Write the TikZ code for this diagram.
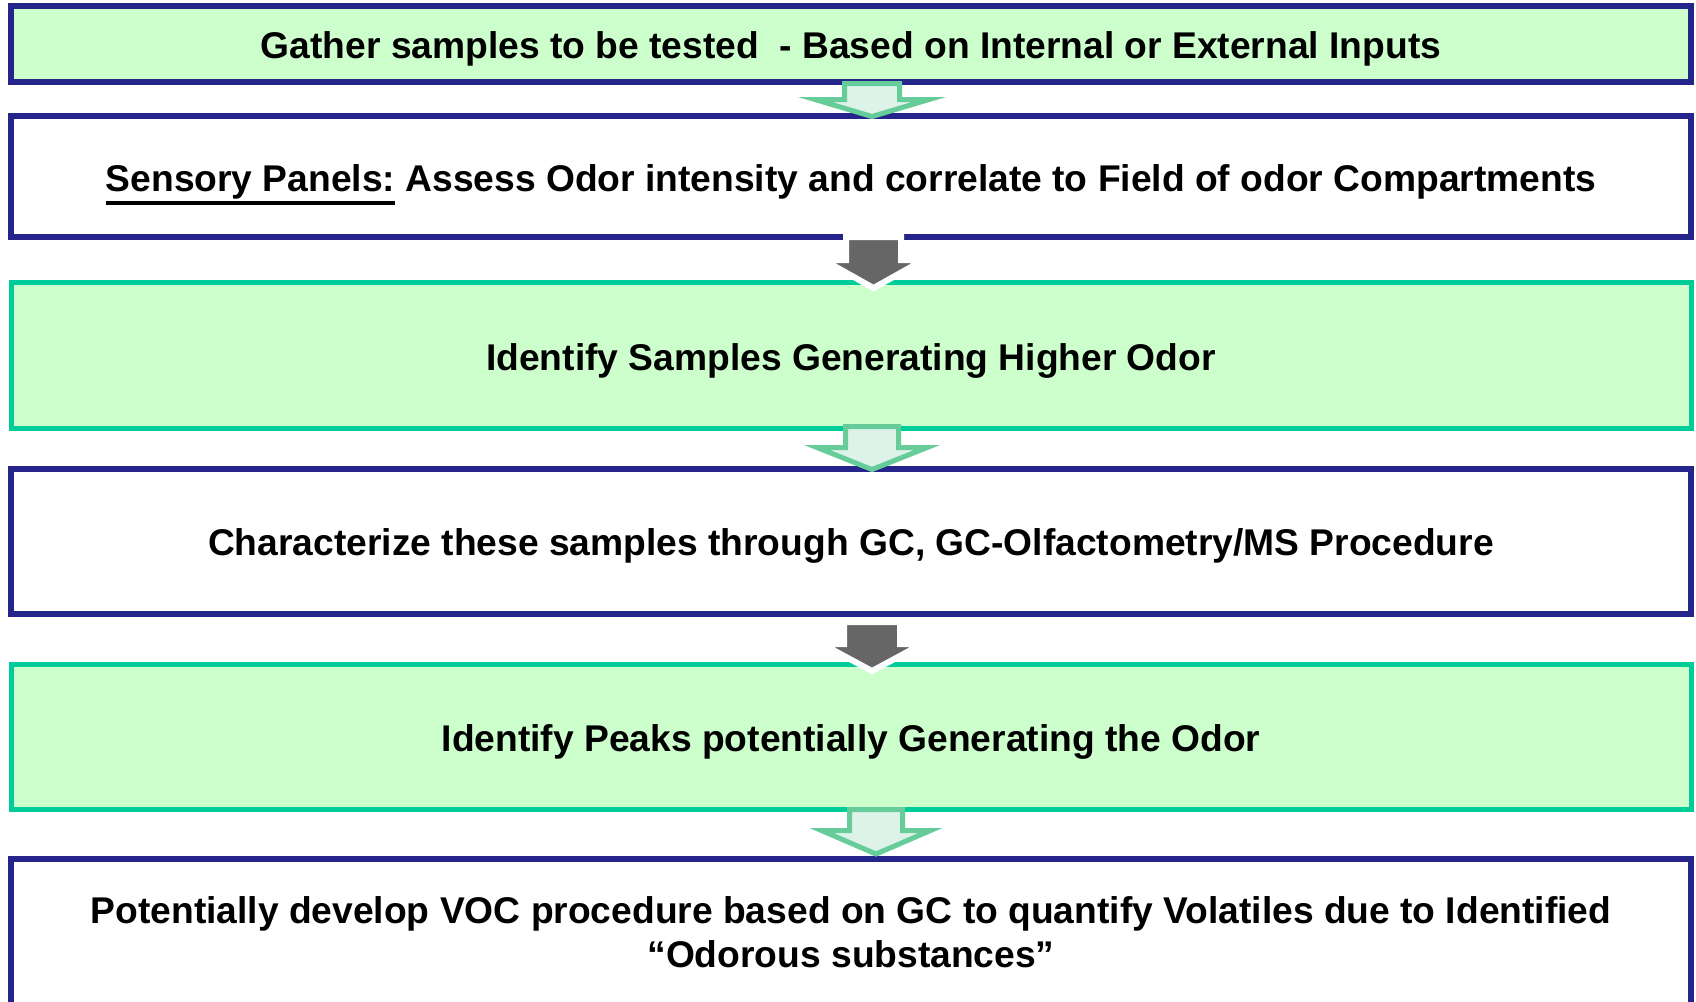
\documentclass[tikz,border=0pt]{standalone}
\usepackage{fontspec}
\setmainfont{Liberation Sans}
\definecolor{boxblue}{RGB}{36,36,139}
\definecolor{boxgreen}{RGB}{0,204,153}
\definecolor{boxfill}{RGB}{204,255,204}
\definecolor{arrline}{RGB}{102,204,153}
\definecolor{arrfill}{RGB}{221,242,232}
\definecolor{arrgray}{RGB}{102,102,102}
\newcommand\myul[1]{\setbox0\hbox{#1}\rlap{\rule[-13.5pt]{\wd0}{3.4pt}}\box0\relax}
\newcommand\myblockarrow[7]{\draw[#7] (#1-#5,#2) -- (#1+#5,#2) -- (#1+#5,#3) -- (#1+#6,#3) -- (#1,#4) -- (#1-#6,#3) -- (#1-#5,#3) -- cycle;}
\tikzset{
  box/.style={rectangle, inner sep=0pt, outer sep=0pt, minimum width=1680pt, anchor=center,
    font=\bfseries\fontsize{37.2}{44}\selectfont, text height=35pt, text depth=6pt, line join=miter},
  bluebox/.style={box, draw=boxblue, line width=6pt, fill=white},
  greenbox/.style={box, draw=boxgreen, line width=5pt, fill=boxfill},
  txt/.style={inner sep=0pt, font=\bfseries\fontsize{37.2}{44}\selectfont, anchor=base},
  larrow/.style={draw=arrline, fill=arrfill, line width=5pt, line join=miter, miter limit=20},
  darrow/.style={draw=white, fill=arrgray, line width=6pt, line join=miter, miter limit=20}
}
\begin{document}
\begin{tikzpicture}[x=1pt,y=-1pt]
\clip (0,0) rectangle (1696,1001);
\fill[white] (0,0) rectangle (1696,1001);
% boxes
\node[bluebox, fill=boxfill, minimum height=76pt] (b1) at (851,44)
  {Gather samples to be tested\ \ - Based on Internal or External Inputs};
\node[bluebox, minimum height=121pt] (b2) at (851,176.5)
  {\myul{Sensory Panels:} Assess Odor intensity and correlate to Field of odor Compartments};
\node[greenbox, minimum height=146pt] (b3) at (851,355.5)
  {Identify Samples Generating Higher Odor};
\node[bluebox, minimum height=145.5pt] (b4) at (851,541.25)
  {Characterize these samples through GC, GC-Olfactometry/MS Procedure};
\node[greenbox, minimum height=145pt] (b5) at (851,737)
  {Identify Peaks potentially Generating the Odor};
\node[bluebox, minimum height=200pt] (b6) at (851,959) {};
\node[txt] (t6a) at (851,923) {Potentially develop VOC procedure based on GC to quantify Volatiles due to Identified};
\node[txt] (t6b) at (851,967) {“Odorous substances”};
% block arrows
\myblockarrow{872}{83.5}{99.5}{116.5}{27.5}{57}{larrow}
\myblockarrow{873.5}{237}{260}{288}{27.5}{50}{darrow}
\myblockarrow{872}{426.5}{447.5}{469.5}{26.5}{55}{larrow}
\myblockarrow{872}{622}{644}{671}{28}{50}{darrow}
\myblockarrow{876}{809.5}{830.5}{854}{26.5}{54.5}{larrow}
\end{tikzpicture}
\end{document}
